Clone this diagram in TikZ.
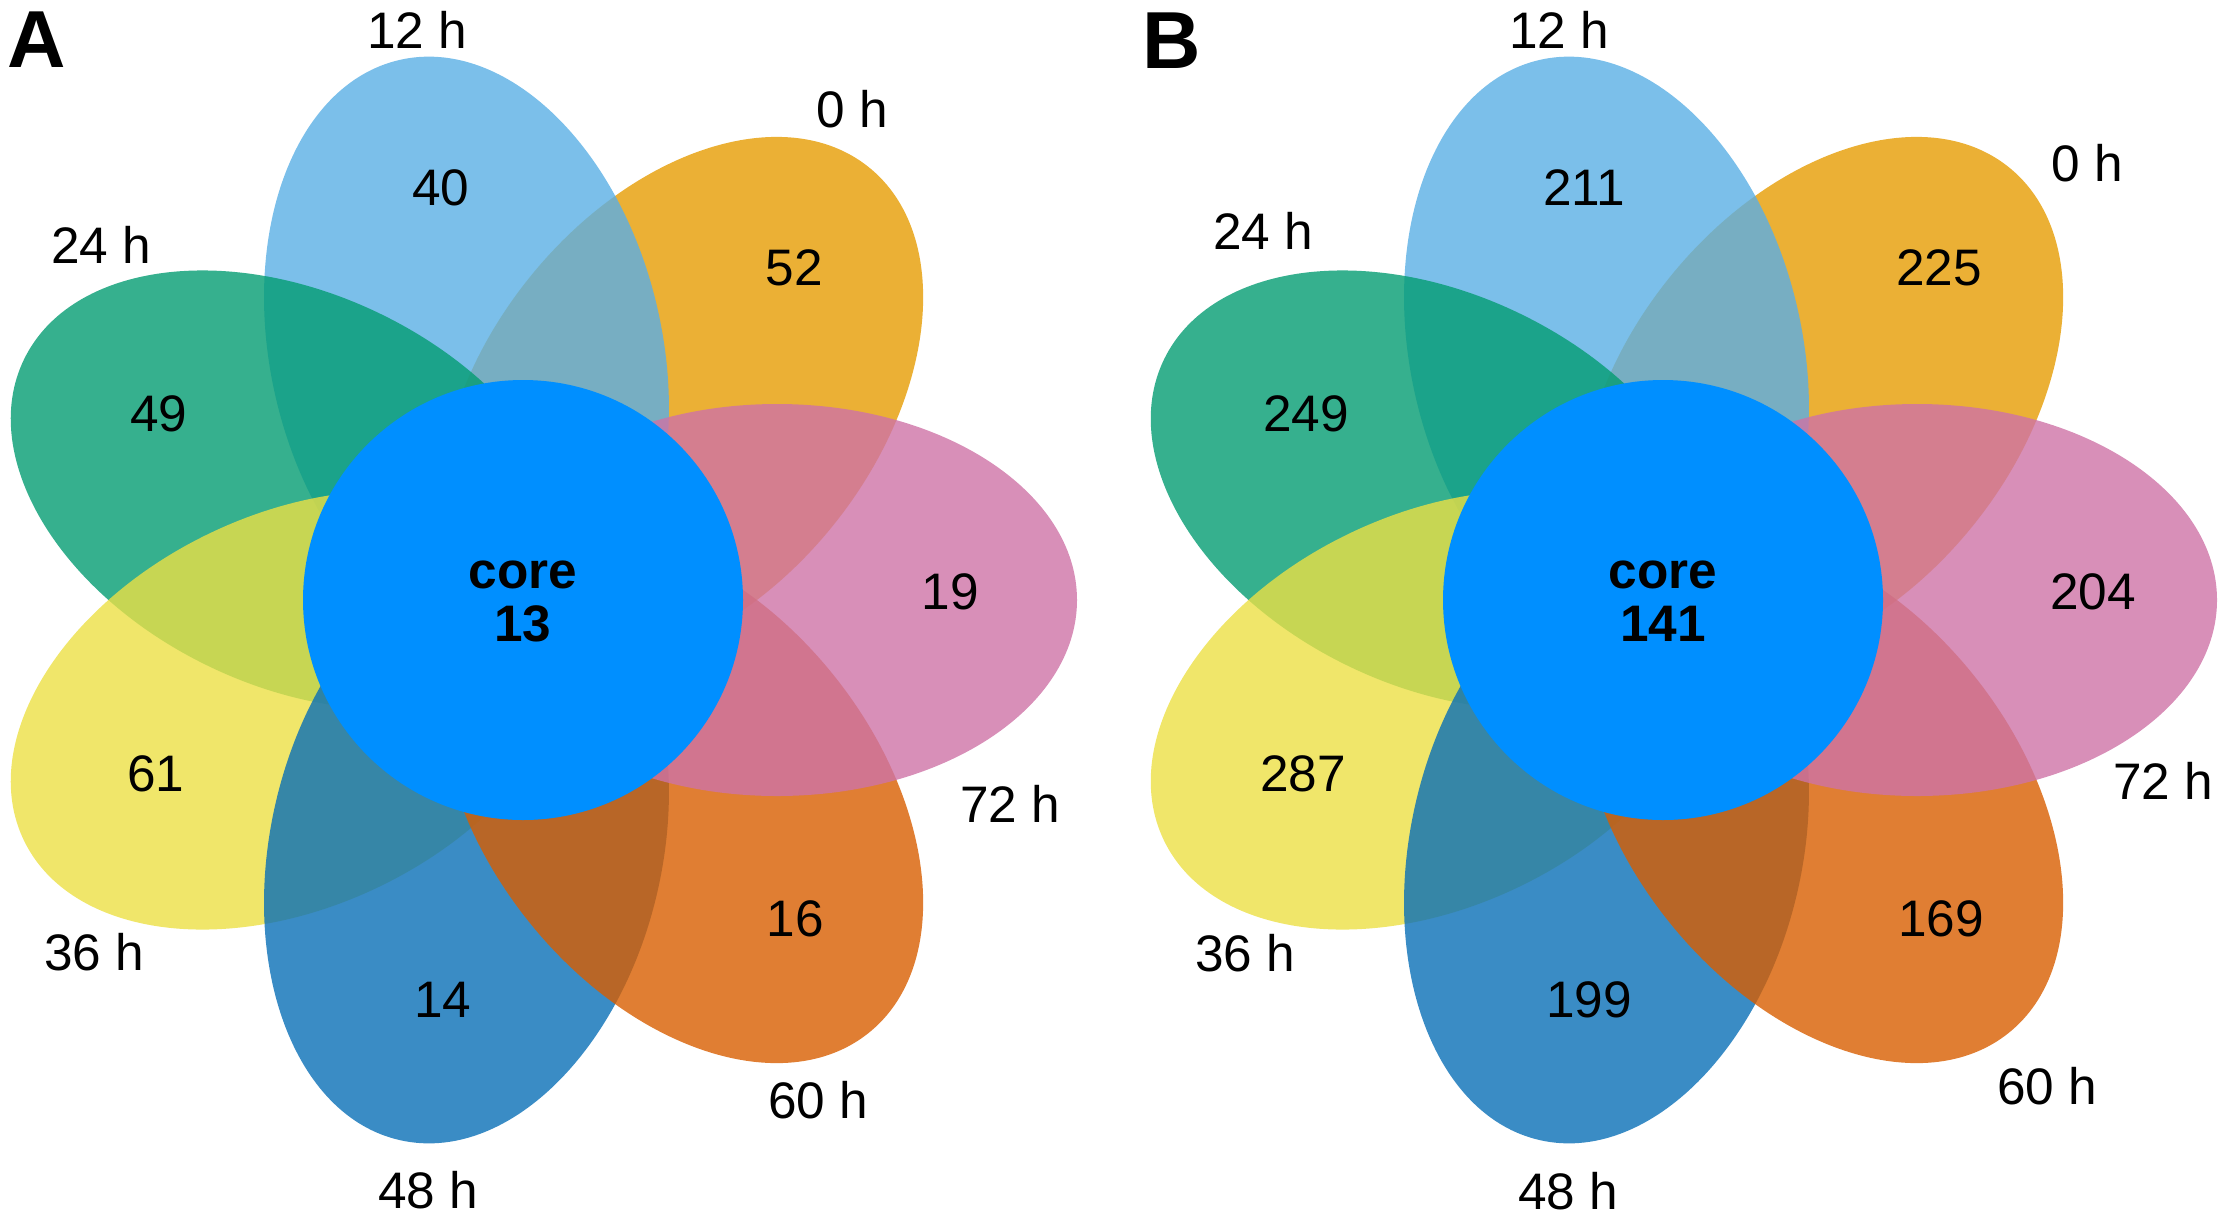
\documentclass[tikz,border=0pt]{standalone}
\usepackage{fontspec}
\setmainfont{Liberation Sans}
\definecolor{petalO}{RGB}{230,156,3}   % 0 h
\definecolor{petalL}{RGB}{90,175,229}  % 12 h
\definecolor{petalG}{RGB}{4,156,114}   % 24 h
\definecolor{petalY}{RGB}{236,224,69}  % 36 h
\definecolor{petalB}{RGB}{9,111,183}   % 48 h
\definecolor{petalR}{RGB}{216,94,0}    % 60 h
\definecolor{petalP}{RGB}{206,115,166} % 72 h
\definecolor{corecol}{RGB}{0,143,255}

\begin{document}
\begin{tikzpicture}[x=0.01cm, y=-0.01cm,
  petal/.style={fill opacity=0.8},
  lbl/.style={inner sep=0pt, font=\fontsize{14.6}{17}\selectfont},
  corelbl/.style={inner sep=0pt, font=\fontsize{14.6}{17}\selectfont\bfseries},
  panel/.style={inner sep=0pt, font=\fontsize{23}{26}\selectfont\bfseries}]
  \useasboundingbox (0,0) rectangle (2228,1218);

  % two flowers, petals drawn in order, pink one on top
  \foreach \px in {523,1663} {
    \begin{scope}[shift={(\px,600)}]
      \foreach \ang/\col in {51.43/petalO, 102.86/petalL, 154.29/petalG,
          205.71/petalY, 257.14/petalB, 308.57/petalR, 0/petalP}
        \fill[petal, fill=\col, rotate=\ang] (254,0) ellipse [x radius=300, y radius=196];
      \fill[corecol] (0,0) circle [radius=220];
    \end{scope}
  }

  % panel A
  \node[panel] (panA) at (37,40) {A};
  \node[lbl] (hA0) at (852,109) {0 h};
  \node[lbl] (hA12) at (417,30) {12 h};
  \node[lbl] (hA24) at (101,245) {24 h};
  \node[lbl] (hA36) at (94,952) {36 h};
  \node[lbl] (hA48) at (428,1190) {48 h};
  \node[lbl] (hA60) at (818,1100) {60 h};
  \node[lbl] (hA72) at (1010,804) {72 h};
  \node[lbl] (nA0) at (794,268) {52};
  \node[lbl] (nA12) at (441,188) {40};
  \node[lbl] (nA24) at (159,414) {49};
  \node[lbl] (nA36) at (156,774) {61};
  \node[lbl] (nA48) at (443,1000) {14};
  \node[lbl] (nA60) at (795,919) {16};
  \node[lbl] (nA72) at (950,592) {19};
  \node[corelbl, anchor=base] (coreA) at (523,588) {core};
  \node[corelbl, anchor=base] (coreAn) at (523,641) {13};

  % panel B
  \node[panel] (panB) at (1172,41) {B};
  \node[lbl] (hB0) at (2087,163) {0 h};
  \node[lbl] (hB12) at (1559,30) {12 h};
  \node[lbl] (hB24) at (1263,231) {24 h};
  \node[lbl] (hB36) at (1245,953) {36 h};
  \node[lbl] (hB48) at (1568,1191) {48 h};
  \node[lbl] (hB60) at (2047,1086) {60 h};
  \node[lbl] (hB72) at (2163,781) {72 h};
  \node[lbl] (nB0) at (1939,268) {225};
  \node[lbl] (nB12) at (1584,188) {211};
  \node[lbl] (nB24) at (1306,414) {249};
  \node[lbl] (nB36) at (1303,774) {287};
  \node[lbl] (nB48) at (1589,1000) {199};
  \node[lbl] (nB60) at (1941,919) {169};
  \node[lbl] (nB72) at (2093,592) {204};
  \node[corelbl, anchor=base] (coreB) at (1663,588) {core};
  \node[corelbl, anchor=base] (coreBn) at (1663,641) {141};
\end{tikzpicture}
\end{document}
